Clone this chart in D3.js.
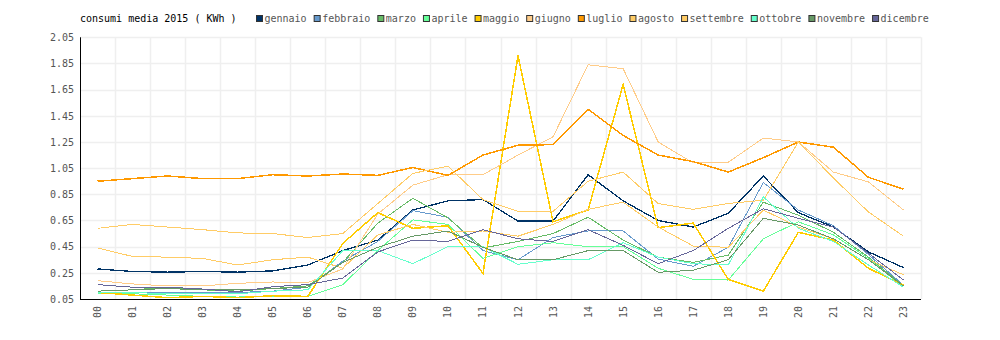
<!DOCTYPE html>
<html><head><meta charset="utf-8">
<script src="https://cdn.jsdelivr.net/npm/d3@7"></script>
<style>
html,body{margin:0;padding:0;background:#fff;}
text{font-family:"DejaVu Sans Mono",monospace;}
</style>
</head><body>
<svg id="chart" width="1000" height="340"></svg>
<script>
const title = "consumi media 2015 ( KWh )";
const hours = ["00","01","02","03","04","05","06","07","08","09","10","11","12","13","14","15","16","17","18","19","20","21","22","23"];
const yTicks = [0.05,0.25,0.45,0.65,0.85,1.05,1.25,1.45,1.65,1.85,2.05];
const months = ["gennaio","febbraio","marzo","aprile","maggio","giugno","luglio","agosto","settembre","ottobre","novembre","dicembre"];
const colors = ["#003366","#6699cc","#66bb66","#66ff99","#ffcc00","#ffcc88","#ff9900","#ffcc66","#ffcc66","#66ffcc","#669966","#666699"];

const gennaio   = [0.28,0.26,0.255,0.26,0.255,0.265,0.31,0.42,0.50,0.73,0.80,0.81,0.645,0.645,1.00,0.80,0.65,0.60,0.705,0.99,0.71,0.60,0.41,0.29];
const febbraio  = [0.10,0.10,0.10,0.10,0.10,0.11,0.14,0.34,0.49,0.725,0.675,0.42,0.35,0.52,0.57,0.57,0.355,0.30,0.445,0.94,0.73,0.61,0.39,0.155];
const marzo     = [0.11,0.12,0.14,0.12,0.11,0.13,0.15,0.33,0.63,0.82,0.67,0.44,0.49,0.55,0.675,0.50,0.37,0.33,0.385,0.79,0.69,0.56,0.37,0.15];
const aprile    = [0.09,0.09,0.08,0.07,0.065,0.07,0.07,0.16,0.42,0.655,0.62,0.36,0.45,0.48,0.45,0.45,0.285,0.20,0.195,0.51,0.64,0.54,0.36,0.14];
const maggio    = [0.10,0.08,0.06,0.07,0.06,0.075,0.07,0.475,0.71,0.59,0.61,0.245,1.91,0.64,0.73,1.69,0.595,0.63,0.20,0.11,0.56,0.50,0.285,0.155];
const giugno    = [0.19,0.165,0.15,0.15,0.17,0.18,0.175,0.28,0.70,0.92,1.00,1.00,1.15,1.29,1.84,1.81,1.25,1.09,1.095,1.28,1.25,1.02,0.945,0.73];
const luglio    = [0.95,0.97,0.99,0.97,0.97,1.00,0.99,1.005,0.995,1.055,0.995,1.15,1.225,1.23,1.50,1.30,1.15,1.10,1.02,1.13,1.25,1.21,0.98,0.89];
const agosto    = [0.59,0.62,0.60,0.58,0.555,0.55,0.52,0.55,0.78,1.01,1.065,0.81,0.72,0.72,0.95,1.02,0.78,0.735,0.78,0.805,1.25,0.975,0.715,0.53];
const settembre = [0.44,0.375,0.37,0.36,0.31,0.35,0.37,0.285,0.54,0.62,0.56,0.57,0.53,0.62,0.735,0.79,0.60,0.455,0.445,0.73,0.60,0.51,0.35,0.235];
const ottobre   = [0.10,0.10,0.09,0.09,0.09,0.11,0.12,0.42,0.42,0.32,0.45,0.45,0.315,0.35,0.35,0.48,0.37,0.32,0.31,0.83,0.59,0.49,0.31,0.14];
const novembre  = [0.11,0.12,0.13,0.12,0.12,0.13,0.14,0.33,0.445,0.53,0.57,0.445,0.35,0.35,0.42,0.42,0.254,0.27,0.35,0.667,0.615,0.51,0.35,0.15];
const dicembre  = [0.16,0.14,0.14,0.126,0.105,0.144,0.16,0.21,0.41,0.50,0.49,0.58,0.51,0.49,0.58,0.46,0.32,0.42,0.59,0.74,0.667,0.60,0.40,0.195];

const seriesValues = [gennaio,febbraio,marzo,aprile,maggio,giugno,luglio,agosto,settembre,ottobre,novembre,dicembre];
const widths = [1.3,1,1,1,1.5,1,1.5,1,1,1,1,1];

const svg = d3.select("#chart");
const pLeft = 80, pRight = 921, pTop = 37.3, pBottom = 299;

const x = d3.scaleBand().domain(hours).range([pLeft, pRight]).paddingInner(0).paddingOuter(0);
const y = d3.scaleLinear().domain([0.05, 2.05]).range([pBottom, pTop]);
const cx = h => x(h) + x.bandwidth()/2;

// grid
const grid = svg.append("g");
grid.selectAll("line.h").data(yTicks.slice(1)).join("line")
  .attr("x1", pLeft).attr("x2", pRight)
  .attr("y1", d => Math.round(y(d)) + 0.5).attr("y2", d => Math.round(y(d)) + 0.5)
  .attr("stroke", "#efefef").attr("stroke-width", 1.5);
grid.selectAll("line.v").data(hours.slice(1).map(h => x(h)).concat([pRight])).join("line")
  .attr("x1", d => Math.round(d) + 0.5).attr("x2", d => Math.round(d) + 0.5)
  .attr("y1", pTop).attr("y2", pBottom)
  .attr("stroke", "#efefef").attr("stroke-width", 1.5);

// lines
const line = d3.line().x((d, i) => cx(hours[i])).y(d => y(d));
svg.append("g").selectAll("path").data(seriesValues).join("path")
  .attr("d", d => line(d))
  .attr("fill", "none")
  .attr("stroke", (d, i) => colors[i])
  .attr("stroke-width", (d, i) => widths[i])
  .attr("shape-rendering", "crispEdges");

// axes
const yAxis = d3.axisLeft(y).tickValues(yTicks).tickSize(0).tickPadding(6).tickFormat(d3.format(".2f"));
const gy = svg.append("g").attr("transform", `translate(${pLeft},0)`).call(yAxis);
gy.select(".domain").remove();
gy.selectAll("text").attr("fill", "#555").style("font-size", "10px").style("font-family", "'DejaVu Sans Mono', monospace");

const xAxis = d3.axisBottom(x).tickSize(0).tickPadding(0);
const gx = svg.append("g").attr("transform", `translate(0,${pBottom})`).call(xAxis);
gx.select(".domain").remove();
gx.selectAll("text")
  .attr("fill", "#555").style("font-size", "10px").style("font-family", "'DejaVu Sans Mono', monospace")
  .attr("transform", "translate(0,7) rotate(-90)")
  .attr("text-anchor", "end").attr("dy", "0.35em").attr("x", 0).attr("y", 0);

svg.append("line").attr("x1", pLeft).attr("x2", pRight).attr("y1", pBottom + 0.5).attr("y2", pBottom + 0.5)
  .attr("stroke", "#000").attr("stroke-width", 1);
svg.append("line").attr("x1", pLeft + 0.5).attr("x2", pLeft + 0.5).attr("y1", pTop).attr("y2", pBottom + 1)
  .attr("stroke", "#000").attr("stroke-width", 1);

// title
svg.append("text").attr("x", 80).attr("y", 22).attr("fill", "#000")
  .style("font-size", "10px").text(title);

// legend
const lg = svg.append("g");
let lx = 256.5;
months.forEach((m, i) => {
  lg.append("rect").attr("x", lx).attr("y", 15.5).attr("width", 6).attr("height", 6)
    .attr("fill", colors[i]).attr("stroke", "#333").attr("stroke-width", 1);
  const t = lg.append("text").attr("x", lx + 8).attr("y", 22).attr("fill", "#555")
    .style("font-size", "10px").text(m);
  const w = t.node().getComputedTextLength();
  lx = lx + 8 + w + 7.5;
});
</script>
</body></html>
